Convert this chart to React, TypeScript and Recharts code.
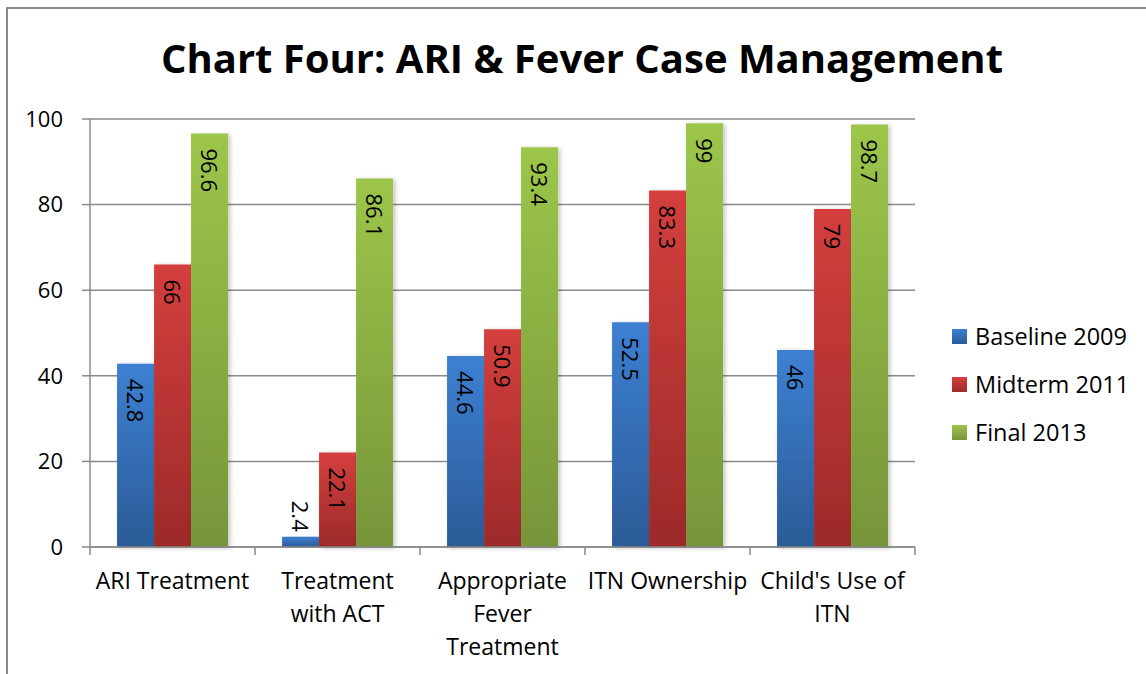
import React from 'react';
import { BarChart, Bar, XAxis, YAxis, CartesianGrid, Legend, LabelList } from 'recharts';

// chart values
const categories = [
  'ARI Treatment',
  'Treatment\nwith ACT',
  'Appropriate\nFever\nTreatment',
  'ITN Ownership',
  "Child's Use of\nITN",
];
const baseline2009 = [42.8, 2.4, 44.6, 52.5, 46];
const midterm2011 = [66, 22.1, 50.9, 83.3, 79];
const final2013 = [96.6, 86.1, 93.4, 99, 98.7];
const yTicks = [0, 20, 40, 60, 80, 100];

const series = [
  { key: 'baseline', name: 'Baseline 2009', top: '#3d80d2', bottom: '#2b5b97' },
  { key: 'midterm', name: 'Midterm 2011', top: '#d43f3e', bottom: '#9c2a29' },
  { key: 'final', name: 'Final 2013', top: '#9cc64a', bottom: '#76953a' },
];

const data = categories.map((name, i) => ({
  name,
  baseline: baseline2009[i],
  midterm: midterm2011[i],
  final: final2013[i],
}));

const FONT = '"Open Sans", sans-serif';
const AXIS = '#8a8a8a';

// category label plus the tick marks that sit between categories
function CategoryTick(props: any) {
  const { x, y, payload, index, visibleTicksCount } = props;
  const half = payload.offset || 0;
  const lines = String(payload.value).split('\n');
  const isLast = index === (visibleTicksCount ?? categories.length) - 1;
  return (
    <g>
      <line x1={x - half} y1={y - 8} x2={x - half} y2={y} stroke={AXIS} strokeWidth={1.5} />
      {isLast && <line x1={x + half} y1={y - 8} x2={x + half} y2={y} stroke={AXIS} strokeWidth={1.5} />}
      <text x={x} y={y} textAnchor="middle" fontFamily={FONT} fontSize={23} fill="#000">
        {lines.map((l, i) => (
          <tspan key={i} x={x} dy={i === 0 ? 34 : 33}>
            {l}
          </tspan>
        ))}
      </text>
    </g>
  );
}

function BarValue(props: any) {
  const { x, y, width, height, value } = props;
  const cx = x + width / 2;
  const fits = height > 60;
  const ty = fits ? y + 15 : y - 5;
  return (
    <text
      x={cx}
      y={ty}
      transform={`rotate(90 ${cx} ${ty})`}
      textAnchor={fits ? 'start' : 'end'}
      dominantBaseline="central"
      fontFamily={FONT}
      fontSize={22}
      fill="#000"
    >
      {value}
    </text>
  );
}

function LegendBox() {
  return (
    <div style={{ fontFamily: FONT, fontSize: 23.5, color: '#000' }}>
      {series.map((s) => (
        <div key={s.key} style={{ display: 'flex', alignItems: 'center', height: 48 }}>
          <span
            style={{
              width: 15,
              height: 15,
              marginRight: 8,
              background: `linear-gradient(${s.top}, ${s.bottom})`,
            }}
          />
          <span>{s.name}</span>
        </div>
      ))}
    </div>
  );
}

export default function App() {
  return (
    <div style={{ position: 'absolute', left: 0, top: 0, width: 1146, height: 674, background: '#fff' }}>
      <div
        style={{
          position: 'absolute',
          left: 6,
          top: 7,
          right: 0,
          bottom: 0,
          borderLeft: '2px solid #8a8a8a',
          borderTop: '2px solid #8a8a8a',
        }}
      />
      <div
        style={{
          position: 'absolute',
          left: 0,
          width: 1164,
          top: 28,
          textAlign: 'center',
          fontFamily: FONT,
          fontWeight: 700,
          fontSize: 40,
          lineHeight: '60px',
          color: '#000',
        }}
      >
        Chart Four: ARI &amp; Fever Case Management
      </div>
      <div style={{ position: 'absolute', left: 0, top: 0 }}>
        <BarChart
          width={1146}
          height={674}
          data={data}
          margin={{ top: 119, right: 231, bottom: 27, left: 30 }}
          barCategoryGap="16.4%"
          barGap={0}
        >
          <defs>
            {series.map((s) => (
              <linearGradient key={s.key} id={`grad-${s.key}`} x1="0" y1="0" x2="0" y2="1">
                <stop offset="0%" stopColor={s.top} />
                <stop offset="100%" stopColor={s.bottom} />
              </linearGradient>
            ))}
            <filter id="shadow" x="-20%" y="-5%" width="140%" height="110%">
              <feDropShadow dx="2" dy="1" stdDeviation="2" floodColor="#000" floodOpacity="0.25" />
            </filter>
          </defs>
          <CartesianGrid vertical={false} stroke={AXIS} strokeWidth={1.5} />
          <XAxis
            dataKey="name"
            height={100}
            interval={0}
            tickLine={false}
            tickSize={8}
            tickMargin={0}
            axisLine={{ stroke: AXIS, strokeWidth: 1.5 }}
            tick={<CategoryTick />}
          />
          <YAxis
            width={60}
            domain={[0, 100]}
            ticks={yTicks}
            tickLine={{ stroke: AXIS, strokeWidth: 1.5 }}
            axisLine={{ stroke: AXIS, strokeWidth: 1.5 }}
            tickSize={8}
            tickMargin={19}
            tick={{ fontFamily: FONT, fontSize: 22, fill: '#000' }}
          />
          <Legend
            layout="horizontal"
            verticalAlign="middle"
            align="center"
            wrapperStyle={{ left: 952, top: 312, width: 'auto' }}
            content={<LegendBox />}
          />
          {series.map((s) => (
            <Bar
              key={s.key}
              dataKey={s.key}
              name={s.name}
              fill={`url(#grad-${s.key})`}
              filter="url(#shadow)"
              isAnimationActive={false}
            >
              <LabelList dataKey={s.key} content={<BarValue />} />
            </Bar>
          ))}
        </BarChart>
      </div>
    </div>
  );
}
